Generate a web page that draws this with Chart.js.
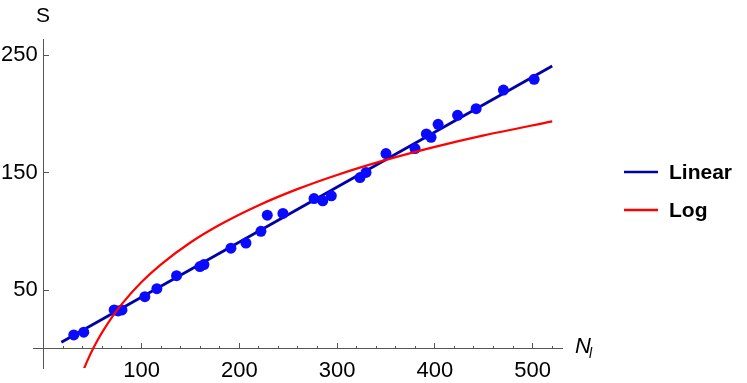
<!DOCTYPE html>
<html>
<head>
<meta charset="utf-8">
<script src="https://cdn.jsdelivr.net/npm/chart.js@4/dist/chart.umd.min.js"></script>
<style>
html,body{margin:0;padding:0;background:#fff;}
#wrap{position:relative;width:747px;height:383px;}
</style>
</head>
<body>
<div id="wrap"><canvas id="c" width="747" height="383"></canvas></div>
<script>
// Observed data points (N_l, S)
const pointsN = [30.7, 40.9, 72, 76, 80, 103.4, 115.7, 135.8, 159.7, 163.8, 191.4, 206.8, 222.1, 228.6, 244.6, 276.4, 285.3, 294.1, 323.4, 329.6, 350, 379.7, 391.3, 396.1, 403.3, 423.2, 442.2, 470.1, 501.5];
const pointsS = [11.7, 14.0, 33.0, 32.2, 33.0, 44.3, 51.1, 62.2, 70.0, 71.7, 85.7, 90.0, 100.0, 113.8, 115.3, 128.0, 126.0, 130.3, 145.9, 150.2, 166.3, 170.6, 183.0, 180.2, 191.3, 198.9, 204.6, 220.5, 229.6];
// Linear fit line
const linearN = [18, 520];
const linearS = [5.5, 241];
// Log fit curve
const logN = [41, 45, 50, 55, 60, 70, 80, 100, 120, 150, 180, 220, 260, 300, 350, 400, 450, 520];
const logS = [-17.3, -9.6, -0.8, 7.1, 14.3, 27.1, 38.2, 56.8, 71.9, 90.5, 105.6, 122.3, 136.2, 148.1, 160.9, 172.0, 181.8, 193.8];
// Ticks
const xMajorTicks = [100, 200, 300, 400, 500];
const xMinorTicks = [20, 40, 60, 80, 120, 140, 160, 180, 220, 240, 260, 280, 320, 340, 360, 380, 420, 440, 460, 480, 520];
const yTicks = [50, 150, 250];
const legendLabels = ['Linear', 'Log'];

const FONT = "'Liberation Sans', Arial, sans-serif";
const AXIS = '#555555';
const BLUE_LINE = '#0000a8';
const BLUE_PT = '#0a0aff';
const RED = '#ff0000';

const zip = (a, b) => a.map((v, i) => ({x: v, y: b[i]}));

const overlay = {
  id: 'overlay',
  afterDraw(chart) {
    const ctx = chart.ctx;
    ctx.save();
    // axis titles
    ctx.fillStyle = '#000';
    ctx.textBaseline = 'middle';
    ctx.textAlign = 'center';
    ctx.font = '21px ' + FONT;
    ctx.fillText('S', 43, 16);
    ctx.textAlign = 'left';
    ctx.font = 'italic 22px ' + FONT;
    ctx.fillText('N', 575, 347);
    ctx.font = 'italic 14px ' + FONT;
    ctx.fillText('l', 589, 354);
    // legend
    const cols = [BLUE_LINE, RED];
    const ys = [172, 210];
    ctx.lineWidth = 2.5;
    legendLabels.forEach((t, i) => {
      ctx.strokeStyle = cols[i];
      ctx.beginPath();
      ctx.moveTo(624, ys[i]);
      ctx.lineTo(658, ys[i]);
      ctx.stroke();
      ctx.fillStyle = '#000';
      ctx.font = 'bold 21px ' + FONT;
      ctx.fillText(t, 669, ys[i] + 1);
    });
    ctx.restore();
  }
};

new Chart(document.getElementById('c'), {
  type: 'scatter',
  data: {
    datasets: [
      {
        label: 'Log', type: 'line', data: zip(logN, logS),
        borderColor: RED, borderWidth: 2.2, pointRadius: 0, fill: false,
        cubicInterpolationMode: 'monotone', order: 0
      },
      {
        label: 'Data', data: zip(pointsN, pointsS),
        backgroundColor: BLUE_PT, borderColor: BLUE_PT, pointRadius: 5.5, borderWidth: 0, order: 1
      },
      {
        label: 'Linear', type: 'line', data: zip(linearN, linearS),
        borderColor: BLUE_LINE, borderWidth: 2.8, pointRadius: 0, fill: false, order: 2
      }
    ]
  },
  options: {
    responsive: false,
    animation: false,
    layout: {padding: {left: 33, right: 185, top: 39, bottom: 15}},
    plugins: {legend: {display: false}, tooltip: {enabled: false}},
    scales: {
      x: {
        type: 'linear', min: -11, max: 530, position: {y: 0},
        afterBuildTicks: s => { s.ticks = xMajorTicks.map(v => ({value: v})); },
        grid: {drawOnChartArea: false, tickLength: -6, tickColor: AXIS, tickWidth: 1},
        border: {color: AXIS, width: 1},
        ticks: {font: {family: FONT, size: 22}, color: '#000', padding: 15, maxRotation: 0, autoSkip: false}
      },
      x2: {
        type: 'linear', min: -11, max: 530, position: {y: 0},
        afterBuildTicks: s => { s.ticks = xMinorTicks.map(v => ({value: v})); },
        grid: {drawOnChartArea: false, tickLength: -3, tickColor: AXIS, tickWidth: 1},
        border: {display: false},
        ticks: {display: false}
      },
      y: {
        type: 'linear', min: -16.5, max: 264, position: {x: 0},
        afterBuildTicks: s => { s.ticks = yTicks.map(v => ({value: v})); },
        grid: {drawOnChartArea: false, tickLength: -6, tickColor: AXIS, tickWidth: 1},
        border: {color: AXIS, width: 1},
        ticks: {font: {family: FONT, size: 22}, color: '#000', padding: 0, autoSkip: false,
                callback: v => v + ' '}
      }
    }
  },
  plugins: [overlay]
});
</script>
</body>
</html>
